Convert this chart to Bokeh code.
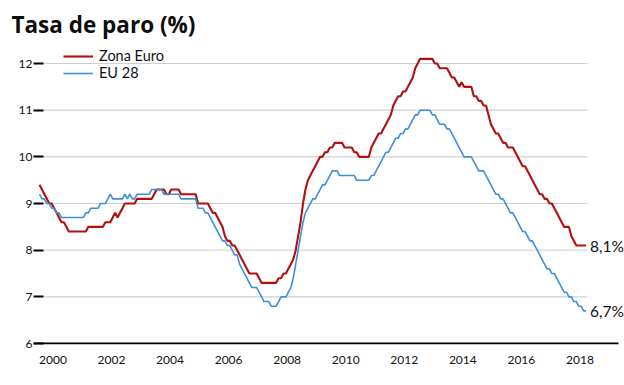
import numpy as np
from bokeh.plotting import figure
from bokeh.models import FixedTicker, CustomJSTickFormatter, Label, Legend, LegendItem
from bokeh.embed import file_html
from bokeh.resources import INLINE

# ---- data (monthly, Jan 2000 - Sep 2018) ----
START_YEAR = 2000
zona_euro = [
    9.4, 9.3, 9.2, 9.1, 9.0, 9.0, 8.9, 8.8, 8.7, 8.6, 8.6, 8.5,
    8.4, 8.4, 8.4, 8.4, 8.4, 8.4, 8.4, 8.4, 8.5, 8.5, 8.5, 8.5,
    8.5, 8.5, 8.5, 8.6, 8.6, 8.6, 8.7, 8.8, 8.7, 8.8, 8.9, 9.0,
    9.0, 9.0, 9.0, 9.0, 9.1, 9.1, 9.1, 9.1, 9.1, 9.1, 9.1, 9.2,
    9.3, 9.3, 9.3, 9.3, 9.2, 9.2, 9.3, 9.3, 9.3, 9.3, 9.2, 9.2,
    9.2, 9.2, 9.2, 9.2, 9.2, 9.0, 9.0, 9.0, 9.0, 9.0, 8.9, 8.8,
    8.8, 8.7, 8.6, 8.5, 8.3, 8.2, 8.2, 8.1, 8.1, 8.0, 7.9, 7.8,
    7.7, 7.6, 7.5, 7.5, 7.5, 7.5, 7.4, 7.3, 7.3, 7.3, 7.3, 7.3,
    7.3, 7.3, 7.4, 7.4, 7.5, 7.5, 7.6, 7.7, 7.8, 8.0, 8.3, 8.6,
    9.0, 9.3, 9.5, 9.6, 9.7, 9.8, 9.9, 10.0, 10.0, 10.1, 10.1, 10.2,
    10.2, 10.3, 10.3, 10.3, 10.3, 10.2, 10.2, 10.2, 10.2, 10.1, 10.1, 10.0,
    10.0, 10.0, 10.0, 10.0, 10.2, 10.3, 10.4, 10.5, 10.5, 10.6, 10.7, 10.8,
    10.9, 11.1, 11.2, 11.3, 11.3, 11.4, 11.4, 11.5, 11.6, 11.7, 11.9, 12.0,
    12.1, 12.1, 12.1, 12.1, 12.1, 12.1, 12.0, 12.0, 11.9, 11.9, 11.9, 11.9,
    11.8, 11.7, 11.7, 11.6, 11.5, 11.6, 11.5, 11.5, 11.5, 11.5, 11.3, 11.3,
    11.2, 11.2, 11.1, 11.1, 10.9, 10.7, 10.6, 10.5, 10.5, 10.4, 10.3, 10.3,
    10.2, 10.2, 10.2, 10.1, 10.0, 9.9, 9.8, 9.8, 9.7, 9.6, 9.5, 9.4,
    9.3, 9.2, 9.2, 9.1, 9.1, 9.0, 9.0, 8.9, 8.8, 8.7, 8.6, 8.5,
    8.5, 8.5, 8.3, 8.2, 8.1, 8.1, 8.1, 8.1, 8.1,
]
eu28 = [
    9.2, 9.1, 9.1, 9.0, 9.0, 8.9, 8.9, 8.8, 8.8, 8.7, 8.7, 8.7,
    8.7, 8.7, 8.7, 8.7, 8.7, 8.7, 8.7, 8.8, 8.8, 8.9, 8.9, 8.9,
    8.9, 9.0, 9.0, 9.0, 9.1, 9.2, 9.1, 9.1, 9.1, 9.1, 9.1, 9.2,
    9.1, 9.2, 9.1, 9.1, 9.2, 9.2, 9.2, 9.2, 9.2, 9.2, 9.3, 9.3,
    9.3, 9.3, 9.3, 9.2, 9.2, 9.2, 9.2, 9.2, 9.2, 9.2, 9.1, 9.1,
    9.1, 9.1, 9.1, 9.1, 9.1, 8.9, 8.9, 8.9, 8.8, 8.8, 8.7, 8.6,
    8.5, 8.4, 8.3, 8.2, 8.2, 8.1, 8.1, 8.0, 7.9, 7.9, 7.7, 7.6,
    7.5, 7.4, 7.3, 7.2, 7.2, 7.2, 7.1, 7.0, 6.9, 6.9, 6.9, 6.8,
    6.8, 6.8, 6.9, 7.0, 7.0, 7.0, 7.1, 7.2, 7.4, 7.7, 8.0, 8.3,
    8.6, 8.8, 8.9, 9.0, 9.1, 9.1, 9.2, 9.3, 9.4, 9.4, 9.5, 9.6,
    9.7, 9.7, 9.7, 9.6, 9.6, 9.6, 9.6, 9.6, 9.6, 9.6, 9.5, 9.5,
    9.5, 9.5, 9.5, 9.5, 9.6, 9.6, 9.7, 9.8, 9.9, 10.0, 10.1, 10.1,
    10.2, 10.3, 10.4, 10.4, 10.5, 10.5, 10.6, 10.6, 10.7, 10.8, 10.9, 10.9,
    11.0, 11.0, 11.0, 11.0, 11.0, 10.9, 10.9, 10.8, 10.7, 10.7, 10.7, 10.6,
    10.6, 10.5, 10.4, 10.3, 10.2, 10.1, 10.0, 10.0, 10.0, 10.0, 9.9, 9.8,
    9.7, 9.7, 9.7, 9.6, 9.5, 9.4, 9.3, 9.2, 9.2, 9.1, 9.1, 9.0,
    8.9, 8.8, 8.8, 8.7, 8.6, 8.5, 8.4, 8.4, 8.3, 8.2, 8.2, 8.1,
    8.0, 7.9, 7.8, 7.7, 7.6, 7.6, 7.5, 7.5, 7.4, 7.3, 7.2, 7.1,
    7.1, 7.0, 7.0, 6.9, 6.9, 6.8, 6.8, 6.7, 6.7,
]
series_names = ["Zona Euro", "EU 28"]
year_labels = [2000, 2002, 2004, 2006, 2008, 2010, 2012, 2014, 2016, 2018]
y_ticks = [6, 7, 8, 9, 10, 11, 12]
title_text = "Tasa de paro (%)"

dates = START_YEAR + np.arange(len(zona_euro)) / 12.0

RED = "#b20f0f"
BLUE = "#3d8fdb"
FONT = "Lato"
W, H = 624, 380
X_START, X_END = 1999.795, 2019.98
BASE_X_END = 2019.775
Y_START, Y_END = 5.979, 12.386

p = figure(width=W, height=H, output_backend="svg", toolbar_location=None,
           x_range=(X_START, X_END), y_range=(Y_START, Y_END),
           min_border_left=33, min_border_right=0, min_border_top=45, min_border_bottom=36)
p.outline_line_color = None
p.background_fill_color = "white"
p.border_fill_color = "white"
p.xgrid.grid_line_color = None
p.ygrid.grid_line_color = None

# title
p.title.text = title_text
p.title.align = "left"
p.title.offset = -22
p.title.standoff = 12
p.title.text_font = "Open Sans"
p.title.text_font_style = "bold"
p.title.text_font_size = "22.5px"
p.title.text_color = "#0d0d0d"

# manual horizontal grid lines (limited extent as in the original)
grid_vals = [v for v in y_ticks if v > y_ticks[0]]
p.segment(x0=[dates[0] + 0.14] * len(grid_vals), x1=[dates[-1] + 0.05] * len(grid_vals),
          y0=grid_vals, y1=grid_vals,
          line_color=["#e3e3e3" if v == 8 else "#cfcfcf" for v in grid_vals],
          line_width=[2 if v == 8 else 1.2 for v in grid_vals])

# baseline
p.segment(x0=[X_START], x1=[BASE_X_END], y0=[y_ticks[0]], y1=[y_ticks[0]],
          line_color="black", line_width=2)

r1 = p.line(dates, zona_euro, line_color=RED, line_width=2.1)
r2 = p.line(dates, eu28, line_color=BLUE, line_width=1.6)

legend = Legend(items=[LegendItem(label=series_names[0], renderers=[r1]),
                       LegendItem(label=series_names[1], renderers=[r2])],
                location=(30, 263), orientation="vertical")
legend.border_line_alpha = 0
legend.background_fill_alpha = 0
legend.padding = 0
legend.margin = 0
legend.spacing = 0
legend.glyph_width = 30
legend.glyph_height = 16
legend.label_height = 16
legend.label_standoff = 6
legend.label_text_font = FONT
legend.label_text_font_size = "14.5px"
legend.label_text_color = "#111111"
p.add_layout(legend, "center")

# x axis
p.xaxis.ticker = FixedTicker(ticks=[y + 5.5 / 12 for y in year_labels])
p.xaxis.formatter = CustomJSTickFormatter(code="return Math.floor(tick).toFixed(0);")
p.xaxis.major_tick_line_color = None
p.xaxis.minor_tick_line_color = None
p.xaxis.axis_line_color = None
p.xaxis.major_label_standoff = 5
p.xaxis.major_label_text_font = FONT
p.xaxis.major_label_text_font_size = "12px"
p.xaxis.major_label_text_color = "#111111"

# y axis
p.yaxis.ticker = FixedTicker(ticks=y_ticks)
p.yaxis.axis_line_color = None
p.yaxis.minor_tick_line_color = None
p.yaxis.major_tick_in = 10
p.yaxis.major_tick_out = 0
p.yaxis.major_tick_line_color = "black"
p.yaxis.major_tick_line_width = 2
p.yaxis.major_label_standoff = 1
p.yaxis.major_label_text_font = FONT
p.yaxis.major_label_text_font_size = "12px"
p.yaxis.major_label_text_color = "#111111"

# end labels
for vals in (zona_euro, eu28):
    p.add_layout(Label(x=dates[-1], y=vals[-1], x_offset=4,
                       text=f"{vals[-1]:.1f}%".replace(".", ","),
                       text_baseline="middle", text_align="left",
                       text_font=FONT, text_font_size="15.5px", text_color="#111111"))

open("out.html", "w").write(file_html(p, INLINE))
